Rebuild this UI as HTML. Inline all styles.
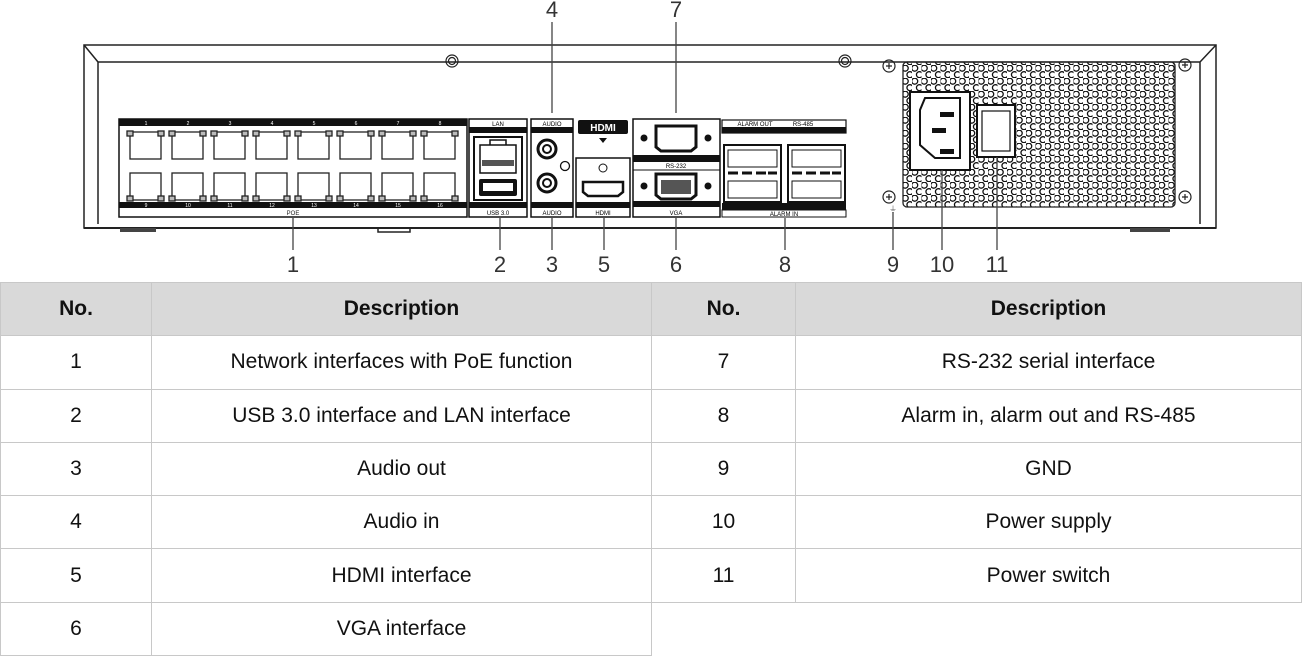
<!DOCTYPE html>
<html><head><meta charset="utf-8"><style>
html,body{margin:0;padding:0;background:#fff;width:1302px;height:657px;overflow:hidden}
svg{position:absolute;left:0;top:0}
table{position:absolute;left:0;top:282px;border-collapse:collapse;font-family:"Liberation Sans",sans-serif;font-size:21px;color:#111}
td{border:1.5px solid #c8c8c8;text-align:center;padding:0;height:52.3px}
tr.h td{background:#d9d9d9;font-weight:bold}
</style></head><body>
<svg width="1302" height="282" viewBox="0 0 1302 282" font-family="Liberation Sans, sans-serif">
<defs>
<pattern id="hex" width="9.5" height="13" patternUnits="userSpaceOnUse">
<circle cx="2.7" cy="3.2" r="3" fill="none" stroke="#111" stroke-width="1.3"/>
<circle cx="7.45" cy="9.7" r="3" fill="none" stroke="#111" stroke-width="1.3"/>
</pattern>
</defs>
<g stroke="#222" fill="none" stroke-width="1.5">
<path d="M84 45 H1216 V228 H84 Z"/>
<path d="M98 62 H1200 M84 45 L98 62 M1216 45 L1200 62 M98 62 V224 M1200 62 V224"/>
<path d="M84 228 H1216" stroke-width="2"/>
<rect x="120" y="228" width="36" height="4" fill="#444" stroke="none"/>
<rect x="378" y="228" width="32" height="4" fill="none"/>
<rect x="1130" y="228" width="40" height="4" fill="#444" stroke="none"/>
</g>
<g stroke="#222" fill="none" stroke-width="1.2">
<circle cx="452" cy="61" r="6"/><circle cx="452" cy="61" r="3.5"/>
<circle cx="845" cy="61" r="6"/><circle cx="845" cy="61" r="3.5"/>
<circle cx="889" cy="66" r="6"/><path d="M886 66h6M889 63v6"/>
<circle cx="889" cy="197" r="6"/><path d="M886 197h6M889 194v6"/>
<circle cx="1185" cy="65" r="6"/><path d="M1182 65h6M1185 62v6"/>
<circle cx="1185" cy="197" r="6"/><path d="M1182 197h6M1185 194v6"/>
</g>
<rect x="903" y="62" width="272" height="145" rx="4" fill="url(#hex)" stroke="#222" stroke-width="1.3"/>
<rect x="910" y="92" width="60" height="78" fill="#fff" stroke="#111" stroke-width="2"/>
<path d="M925 98 H960 V158 H935 L920 145 V110 Z" fill="#fff" stroke="#111" stroke-width="2"/>
<rect x="940" y="112" width="14" height="5" fill="#111"/><rect x="932" y="128" width="14" height="5" fill="#111"/><rect x="940" y="149" width="14" height="5" fill="#111"/>
<rect x="977" y="105" width="38" height="52" fill="#fff" stroke="#111" stroke-width="2"/>
<rect x="982" y="111" width="28" height="40" fill="#fff" stroke="#111" stroke-width="1.2"/>
<rect x="119" y="119" width="348" height="98" fill="#fff" stroke="#111" stroke-width="1.5"/>
<rect x="119" y="119" width="348" height="7" fill="#111"/>
<rect x="119" y="202" width="348" height="6" fill="#111"/>
<g fill="#fff" font-size="5" text-anchor="middle">
<text x="146" y="125">1</text><text x="188" y="125">2</text><text x="230" y="125">3</text><text x="272" y="125">4</text><text x="314" y="125">5</text><text x="356" y="125">6</text><text x="398" y="125">7</text><text x="440" y="125">8</text>
<text x="146" y="207">9</text><text x="188" y="207">10</text><text x="230" y="207">11</text><text x="272" y="207">12</text><text x="314" y="207">13</text><text x="356" y="207">14</text><text x="398" y="207">15</text><text x="440" y="207">16</text>
</g>
<text x="293" y="215" font-size="6" text-anchor="middle" fill="#222">POE</text>
<g stroke="#222" fill="#fff" stroke-width="1.3">
<g id="p"><rect x="130" y="132" width="31" height="27"/><rect x="130" y="173" width="31" height="27"/>
<rect x="127" y="131" width="6" height="5" fill="#bbb"/><rect x="158" y="131" width="6" height="5" fill="#bbb"/>
<rect x="127" y="196" width="6" height="5" fill="#bbb"/><rect x="158" y="196" width="6" height="5" fill="#bbb"/></g>
<use href="#p" x="42"/><use href="#p" x="84"/><use href="#p" x="126"/><use href="#p" x="168"/><use href="#p" x="210"/><use href="#p" x="252"/><use href="#p" x="294"/>
</g>
<rect x="469" y="119" width="58" height="98" fill="#fff" stroke="#111" stroke-width="1.5"/>
<rect x="469" y="127" width="58" height="6" fill="#111"/><rect x="469" y="202" width="58" height="6" fill="#111"/>
<text x="498" y="126" font-size="6" text-anchor="middle">LAN</text><text x="498" y="215" font-size="6" text-anchor="middle">USB 3.0</text>
<rect x="474" y="137" width="48" height="63" fill="#fff" stroke="#111" stroke-width="2"/>
<path d="M480 145 H516 V173 H480 Z M490 145 V140 H506 V145" fill="#fff" stroke="#111" stroke-width="1.5"/>
<rect x="482" y="160" width="32" height="6" fill="#555"/>
<rect x="479" y="179" width="38" height="17" rx="2" fill="#111"/><rect x="483" y="183" width="30" height="8" fill="#fff"/>
<rect x="531" y="119" width="42" height="98" fill="#fff" stroke="#111" stroke-width="1.5"/>
<rect x="531" y="127" width="42" height="6" fill="#111"/><rect x="531" y="202" width="42" height="6" fill="#111"/>
<text x="552" y="126" font-size="6" text-anchor="middle">AUDIO</text><text x="552" y="215" font-size="6" text-anchor="middle">AUDIO</text>
<circle cx="547" cy="149" r="9" fill="#fff" stroke="#111" stroke-width="3"/><circle cx="547" cy="149" r="4" fill="none" stroke="#111" stroke-width="2"/>
<circle cx="547" cy="183" r="9" fill="#fff" stroke="#111" stroke-width="3"/><circle cx="547" cy="183" r="4" fill="none" stroke="#111" stroke-width="2"/>
<circle cx="565" cy="166" r="4.5" fill="none" stroke="#111" stroke-width="1.3"/>
<rect x="578" y="120" width="50" height="14" rx="2" fill="#111"/>
<text x="603" y="131" font-size="10" font-weight="bold" fill="#fff" text-anchor="middle">HDMI</text>
<path d="M599 138 h8 l-4 5 z" fill="#111"/>
<rect x="576" y="158" width="54" height="59" fill="#fff" stroke="#111" stroke-width="1.5"/>
<rect x="576" y="202" width="54" height="6" fill="#111"/>
<text x="603" y="215" font-size="6" text-anchor="middle">HDMI</text>
<circle cx="603" cy="168" r="4" fill="none" stroke="#111"/>
<path d="M583 182 H623 V192 L618 196 H588 L583 192 Z" fill="#fff" stroke="#111" stroke-width="2.5"/>
<rect x="633" y="119" width="87" height="98" fill="#fff" stroke="#111" stroke-width="1.5"/>
<rect x="633" y="155" width="87" height="7" fill="#111"/><rect x="633" y="201" width="87" height="6" fill="#111"/>
<path d="M633 170 H720" stroke="#111"/>
<text x="676" y="168" font-size="6" text-anchor="middle">RS-232</text><text x="676" y="215" font-size="6" text-anchor="middle">VGA</text>
<path d="M656 126 H696 V147 L691 151 H661 L656 147 Z" fill="#fff" stroke="#111" stroke-width="3"/>
<path d="M656 174 H696 V195 L691 199 H661 L656 195 Z" fill="#fff" stroke="#111" stroke-width="3"/>
<g fill="#111"><circle cx="644" cy="138" r="3.5"/><circle cx="708" cy="138" r="3.5"/><circle cx="644" cy="186" r="3.5"/><circle cx="708" cy="186" r="3.5"/></g>
<rect x="661" y="180" width="30" height="14" fill="#555"/>
<rect x="722" y="120" width="124" height="13" fill="#fff" stroke="#111" stroke-width="1.2"/>
<rect x="722" y="127" width="124" height="6" fill="#111"/>
<text x="755" y="126" font-size="6" text-anchor="middle">ALARM OUT</text><text x="803" y="126" font-size="6" text-anchor="middle">RS-485</text>
<g fill="#fff" stroke="#111" stroke-width="2">
<rect x="724" y="145" width="57" height="57"/><rect x="788" y="145" width="57" height="57"/>
</g>
<g stroke="#111" stroke-width="1" fill="none">
<rect x="728" y="150" width="49" height="17"/><rect x="728" y="181" width="49" height="17"/>
<rect x="792" y="150" width="49" height="17"/><rect x="792" y="181" width="49" height="17"/>
<path d="M728 173h10M742 173h10M756 173h10M768 173h9M792 173h10M806 173h10M820 173h10M832 173h9" stroke-width="3"/>
</g>
<rect x="722" y="203" width="124" height="7" fill="#111"/>
<rect x="722" y="210" width="124" height="7" fill="#fff" stroke="#111"/>
<text x="784" y="216" font-size="6" text-anchor="middle">ALARM IN</text>
<g stroke="#444" stroke-width="1.3">
<path d="M552 22V113 M676 22V113"/>
<path d="M293 218V250 M500 218V250 M552 218V250 M604 218V250 M676 218V250 M785 218V250"/>
<path d="M893 212V250 M942 170V250 M997 157V250"/>
</g>
<text x="889" y="212" font-size="8" fill="#666">⏚</text>
<g font-size="22" fill="#333" text-anchor="middle">
<text x="552" y="17">4</text><text x="676" y="17">7</text>
<text x="293" y="272">1</text><text x="500" y="272">2</text><text x="552" y="272">3</text><text x="604" y="272">5</text><text x="676" y="272">6</text><text x="785" y="272">8</text><text x="893" y="272">9</text><text x="942" y="272">10</text><text x="997" y="272">11</text>
</g>
</svg>
<table>
<colgroup><col style="width:151px"><col style="width:500px"><col style="width:144px"><col style="width:506px"></colgroup>
<tr class="h"><td>No.</td><td>Description</td><td>No.</td><td>Description</td></tr>
<tr><td>1</td><td>Network interfaces with PoE function</td><td>7</td><td>RS-232 serial interface</td></tr>
<tr><td>2</td><td>USB 3.0 interface and LAN interface</td><td>8</td><td>Alarm in, alarm out and RS-485</td></tr>
<tr><td>3</td><td>Audio out</td><td>9</td><td>GND</td></tr>
<tr><td>4</td><td>Audio in</td><td>10</td><td>Power supply</td></tr>
<tr><td>5</td><td>HDMI interface</td><td>11</td><td>Power switch</td></tr>
<tr><td>6</td><td>VGA interface</td><td style="border:none"></td><td style="border:none"></td></tr>
</table>
</body></html>
